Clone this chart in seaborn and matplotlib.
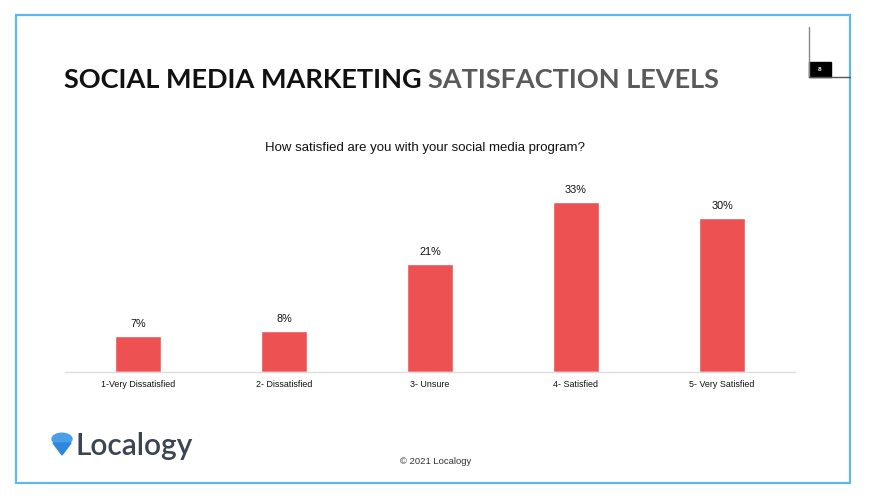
import matplotlib
matplotlib.use("Agg")
import matplotlib.pyplot as plt
import seaborn as sns
import pandas as pd
from matplotlib.patches import Rectangle, Circle, Polygon

# chart data
categories = ["1-Very Dissatisfied", "2- Dissatisfied", "3- Unsure", "4- Satisfied", "5- Very Satisfied"]
shares = [7, 8, 21, 33, 30]
value_labels = ["7%", "8%", "21%", "33%", "30%"]

BAR_COLOR = "#EE5151"
FRAME_COLOR = "#5DB8F0"

sns.set_theme(style="white")
plt.rcParams["font.family"] = ["Liberation Sans", "DejaVu Sans"]

df = pd.DataFrame({"category": categories, "share": shares})

fig = plt.figure(figsize=(8.7, 5.04), dpi=100)
W, H = 870, 504

def fx(px):
    return px / W

def fy(py):
    return 1 - py / H

# slide frame
fig.add_artist(Rectangle((fx(16), fy(483)), fx(850) - fx(16), fy(15) - fy(483),
                         transform=fig.transFigure, fill=False,
                         edgecolor=FRAME_COLOR, linewidth=1.6))

# page number marker
fig.add_artist(plt.Line2D([fx(809), fx(809)], [fy(27), fy(77)], transform=fig.transFigure,
                          color="#888888", linewidth=1))
fig.add_artist(plt.Line2D([fx(809), fx(850)], [fy(77), fy(77)], transform=fig.transFigure,
                          color="#555555", linewidth=1))
fig.add_artist(Rectangle((fx(809), fy(77)), fx(831) - fx(809), fy(62) - fy(77),
                         transform=fig.transFigure, color="black"))
fig.text(fx(820), fy(69.5), "8", color="white", fontsize=4.5, fontweight="bold",
         ha="center", va="center")

# title
t1 = fig.text(fx(64), fy(80), "SOCIAL MEDIA MARKETING ", fontsize=19.5, fontweight="bold",
              family=["Lato", "DejaVu Sans"], color="#111111", va="center", ha="left")
fig.canvas.draw()
bb = t1.get_window_extent()
fig.text(bb.x1 / W, fy(80), "SATISFACTION LEVELS", fontsize=19.5, fontweight="bold",
         family=["Lato", "DejaVu Sans"], color="#5A5A5A", va="center", ha="left")

# subtitle
fig.text(fx(425), fy(148), "How satisfied are you with your social media program?",
         fontsize=9.5, color="#111111", ha="center", va="center")

# bar chart
ax = fig.add_axes([fx(65), fy(372), (795 - 65) / W, 35 * 5.15 / H])
sns.barplot(data=df, x="category", y="share", color=BAR_COLOR, width=0.315,
            saturation=1, ax=ax)
ax.set_ylim(0, 35)
ax.set_xlim(-0.5, len(categories) - 0.5)
ax.set_xlabel("")
ax.set_ylabel("")
ax.set_yticks([])
ax.tick_params(axis="x", length=0, labelsize=6.4, pad=6, labelcolor="#111111")
for s in ["top", "left", "right"]:
    ax.spines[s].set_visible(False)
ax.spines["bottom"].set_color("#DDDDDD")
ax.spines["bottom"].set_linewidth(1)
ax.patch.set_alpha(0)

for container in ax.containers:
    ax.bar_label(container, labels=value_labels, padding=5, fontsize=7.8, color="#111111")

# footer
fig.text(fx(436), fy(462), "\u00a9 2021 Localogy", fontsize=6.8, color="#333333",
         ha="center", va="center")

# logo
fig.add_artist(Circle((fx(62), fy(439)), 0.0115, transform=fig.transFigure,
                      color="#4A9FE8"))
fig.add_artist(Polygon([[fx(53), fy(443)], [fx(71), fy(443)], [fx(62), fy(455)]],
                       transform=fig.transFigure, color="#2F86DB"))
fig.text(fx(76), fy(446), "Localogy", fontsize=21.5, color="#3B4552", fontweight="semibold",
         family=["Lato", "DejaVu Sans"], ha="left", va="center")

fig.savefig("out.png", dpi=100)
